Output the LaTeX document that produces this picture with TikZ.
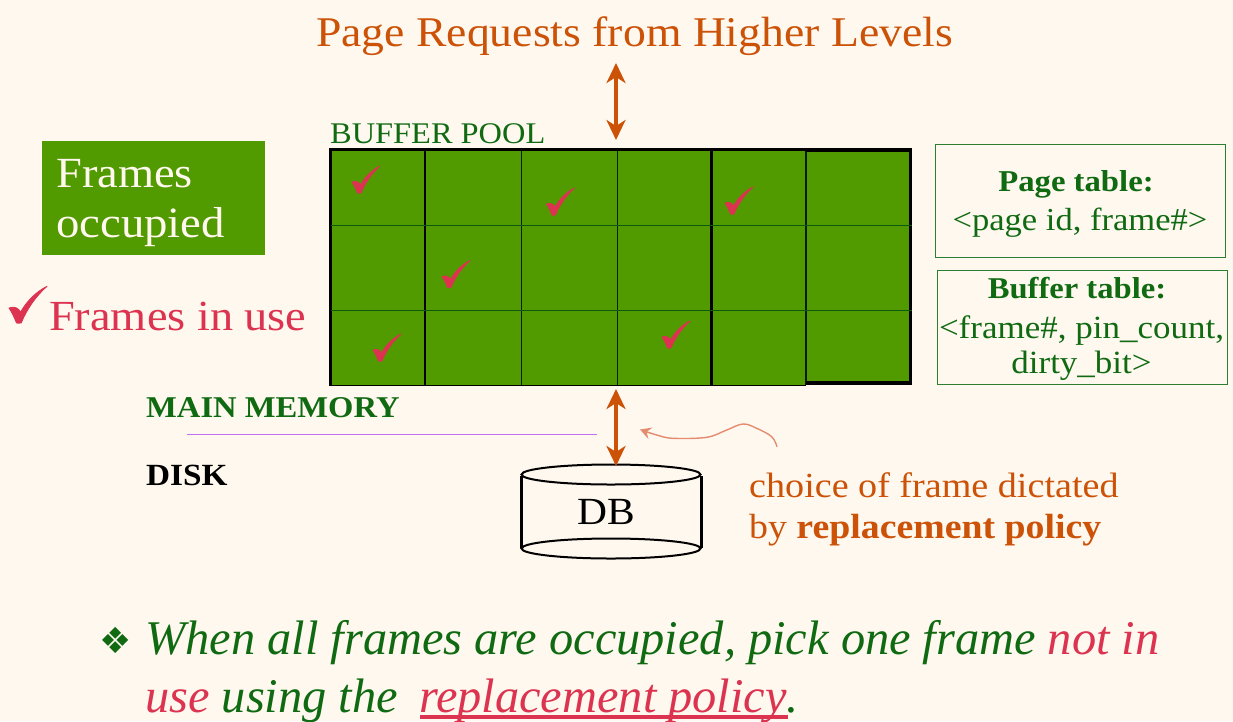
\documentclass[tikz,border=0pt]{standalone}
\usepackage{fontspec}
\setmainfont{Liberation Serif}[FakeStretch=1.08]
\newfontfamily\plainserif{Liberation Serif}
\newfontfamily\sym{DejaVu Sans}
\usetikzlibrary{arrows.meta}
\definecolor{bg}{HTML}{FFF8EE}
\definecolor{poolgreen}{HTML}{519A00}
\definecolor{darkgreen}{HTML}{0F6A12}
\definecolor{boxgreen}{HTML}{2C7F30}
\definecolor{orange}{HTML}{CC5208}
\definecolor{crimson}{HTML}{DC3450}
\definecolor{salmon}{HTML}{E58C70}
\definecolor{lilac}{HTML}{C070F0}
\tikzset{
  lab/.style={inner sep=0pt,anchor=base west,align=left},
  tablebox/.style={draw=boxgreen,line width=1.2pt,inner sep=0pt},
  tabletext/.style={inner sep=0pt,anchor=base,text=darkgreen},
  thickv/.style={draw=black,line width=2.6pt},
  thinv/.style={draw=black!75!darkgreen,line width=1.4pt},
  rowline/.style={draw=black!15!darkgreen,line width=1.4pt},
  bigarrow/.style={draw=orange,line width=4pt,{Stealth[length=20pt,width=19pt,inset=6pt]}-{Stealth[length=20pt,width=19pt,inset=6pt]}},
  tick/.pic={\filldraw[crimson,line width=0.8pt,line join=round] (0,0) .. controls (4,-1.5) and (7,0) .. (8.5,3) .. controls (13,-5) and (20,-12) .. (28,-16) .. controls (20,-9) and (13,1) .. (9,11) .. controls (7,11.5) and (6,11) .. (5.5,11) .. controls (4,7) and (2,3) .. (0,0) -- cycle;}
}
\begin{document}
\begin{tikzpicture}[x=1pt,y=-1pt]
\useasboundingbox (0,0) rectangle (1233,721);
\fill[bg] (0,0) rectangle (1233,721);
% title
\node[lab,text=orange,font=\fontsize{42.3}{42}\selectfont] (title) at (316,46) {Page Requests from Higher Levels};
\coordinate (titlefoot) at (616,63);
\node[lab,text=darkgreen,font=\fontsize{30}{30}\selectfont] (bufpool) at (330,143) {BUFFER POOL};
% pool
\node[fill=poolgreen,draw=none,minimum width=580pt,minimum height=235pt,inner sep=0pt,anchor=north west] (pool) at (331,150) {};
\draw[thickv] (425,150) -- (425,385);
\draw[thinv] (521.5,150) -- (521.5,385);
\draw[thinv] (617.5,150) -- (617.5,385);
\draw[draw=black,line width=3pt] (711,150) -- (711,385);
\draw[thinv] (806,150) -- (806,385);
\draw[draw=black,line width=3.6pt] (806,383) -- (910.5,383) -- (910.5,150) -- (806,150);
\draw[draw=black,line width=3pt] (806,149.5) -- (330.5,149.5) -- (330.5,385.5);
\draw[draw=black,line width=1.6pt] (330.5,385.5) -- (806,385.5);
\draw[rowline] (331,225.3) -- (912,225.3);
\draw[rowline] (331,310.3) -- (912,310.3);
\pic at (352,182) {tick};
\pic at (546.5,204) {tick};
\pic at (725,203) {tick};
\pic at (442,276.5) {tick};
\pic at (373,350) {tick};
\pic at (662,337) {tick};
% left
\node[fill=poolgreen,minimum width=223pt,minimum height=114pt,inner sep=0pt,anchor=north west] (occ) at (42,141) {};
\node[lab,text=bg,font=\fontsize{43}{46}\selectfont] (occ1) at (56,187) {Frames};
\node[lab,text=bg,font=\fontsize{43.3}{46}\selectfont] (occ2) at (56,237) {occupied};
\pic[scale=1.36] at (9,308) {tick};
\node[lab,text=crimson,font=\fontsize{42.9}{40}\selectfont] (inuse) at (49,330) {Frames in use};
% tables
\node[tablebox,minimum width=290pt,minimum height=113pt,anchor=north west] (pt) at (935,144) {};
\node[tabletext,font=\fontsize{30.3}{31}\selectfont\bfseries] (pt1) at (1076,191) {Page table:};
\node[tabletext,font=\fontsize{32}{31}\selectfont] (pt2) at (1080,230) {<page id, frame\#>};
\node[tablebox,minimum width=290pt,minimum height=114pt,anchor=north west] (bt) at (936.7,270) {};
\node[tabletext,font=\fontsize{30.2}{31}\selectfont\bfseries] (bt1) at (1077,298) {Buffer table:};
\node[tabletext,font=\fontsize{32.4}{31}\selectfont] (bt2) at (1081.5,338) {<frame\#, pin\_count,};
\node[tabletext,font=\fontsize{32.4}{31}\selectfont] (bt3) at (1081.5,373) {dirty\_bit>};
% memory / disk
\node[lab,text=darkgreen,font=\fontsize{30.2}{32}\selectfont\bfseries] (mm) at (146,417) {MAIN MEMORY};
\draw[lilac,line width=1pt] (187,434) coordinate (la) -- (597,434) coordinate (lb);
\node[lab,text=black,font=\fontsize{30.8}{32}\selectfont\bfseries] (disk) at (146,485) {DISK};
% DB
\draw[black,line width=3pt] (521,476) -- (521,548);
\draw[black,line width=3pt] (701,476) -- (701,548);
\draw[black,line width=2pt,fill=bg] (611,474.5) ellipse [x radius=89.5,y radius=10];
\draw[black,line width=2pt] (611,548.5) ellipse [x radius=89.5,y radius=10];
\node[inner sep=0pt,anchor=base,font=\fontsize{38.4}{40}\selectfont] (db) at (606,524.5) {DB};
\coordinate (dbtop) at (616,466);
\coordinate (poolbot) at (616,389);
\coordinate (pooltop) at (616,140);
\draw[bigarrow] (titlefoot) -- (pooltop);
\draw[bigarrow] (poolbot) -- (dbtop);
% curly
\coordinate (curlya) at (777,446.7);
\coordinate (curlyb) at (640,429.5);
\draw[salmon,line width=1.4pt,-{Stealth[length=11pt,width=12pt,inset=4pt]}] plot[smooth,tension=0.6] coordinates {(curlya) (771.7,436.7) (756.7,428.3) (743,424) (726.7,430) (706.7,437.3) (673,438.3) (656.7,435) (curlyb)};
\node[lab,text=orange,font=\fontsize{35.3}{34}\selectfont] (ch1) at (749,497) {choice of frame dictated};
\node[lab,text=orange,font=\fontsize{35}{34}\selectfont] (ch2) at (749,538) {by \textbf{replacement policy}};
% bullet
\node[lab,text=darkgreen,font=\sym\fontsize{36}{36}\selectfont] (bul) at (99,653) {❖};
\node[lab,text=darkgreen,font=\plainserif\fontsize{48.4}{47}\selectfont\itshape] (l1) at (145,654) {When all frames are occupied, pick one frame \textcolor{crimson}{not in}};
\node[lab,text=darkgreen,font=\plainserif\fontsize{48.4}{47}\selectfont\itshape] (l2) at (145,712) {\textcolor{crimson}{use} using the\hspace{9pt} \textcolor{crimson}{replacement policy}.};
\draw[crimson,line width=3.6pt] (420,717) -- (788,717);
\end{tikzpicture}
\end{document}
